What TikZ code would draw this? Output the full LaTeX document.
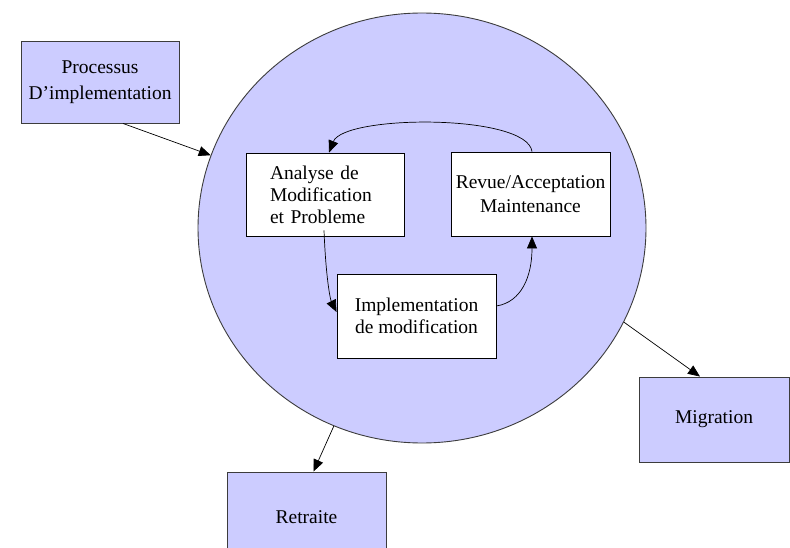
\documentclass[tikz,border=0pt]{standalone}
\usepackage{fontspec}
\setmainfont{Liberation Serif}
\usetikzlibrary{shapes.geometric,arrows.meta,calc}
\definecolor{lav}{RGB}{204,204,255}
\definecolor{edge}{RGB}{60,60,60}
\tikzset{
  outerbox/.style={draw=edge, line width=0.9pt, fill=lav, rectangle, inner sep=0pt, align=center},
  innerbox/.style={draw=black, line width=0.9pt, fill=white, rectangle, inner sep=0pt, align=center},
  conn/.style={draw=black, line width=0.7pt, -{Triangle[length=12pt,width=10pt]}},
  every node/.style={font=\fontsize{19.5}{22}\selectfont}
}
\begin{document}
\begin{tikzpicture}[x=1pt,y=-1pt]
\clip (0,0) rectangle (790,548);
\fill[white] (0,0) rectangle (790,548);

\node[ellipse, draw=edge, line width=0.9pt, fill=lav, minimum width=448pt, minimum height=430pt, inner sep=0pt] (circ) at (422,228) {};

\node[outerbox, minimum width=158pt, minimum height=82pt, font=\fontsize{19.5}{26}\selectfont] (proc) at (100,82) {Processus\\D'implementation};
\node[innerbox, minimum width=158pt, minimum height=83pt, text width=110pt, inner xsep=24pt, align=left] (ana) at (325,194.5) {Analyse de\\Modification\\et Probleme};
\node[innerbox, minimum width=159pt, minimum height=84pt, font=\fontsize{19.5}{24}\selectfont] (rev) at (530.5,194) {Revue/Acceptation\\Maintenance};
\node[innerbox, minimum width=159pt, minimum height=84pt] (impl) at (416.5,316) {Implementation\\de modification};
\node[outerbox, minimum width=159pt, minimum height=90pt] (retr) at (306.5,517) {Retraite};
\node[outerbox, minimum width=150pt, minimum height=85pt] (migr) at (714,419.5) {Migration};

\draw[conn] ([xshift=23pt]proc.south) -- (circ.161.6);
\draw[conn] (circ.246.8) -- ([xshift=7pt]retr.north);
\draw[conn] (circ.335.5) -- ([xshift=-14pt]migr.north);

\draw[conn] ([xshift=1.5pt]rev.north) .. controls +(-5,-38) and +(15,-38) .. ([xshift=4pt]ana.north);
\draw[conn] ([xshift=-1pt,yshift=6pt]ana.south) .. controls +(2,50) and +(-6,-12) .. ([yshift=4pt]impl.west);
\draw[conn] ([yshift=10pt]impl.east) .. controls +(25,-4) and +(0,40) .. ([xshift=1.5pt]rev.south);
\end{tikzpicture}
\end{document}
